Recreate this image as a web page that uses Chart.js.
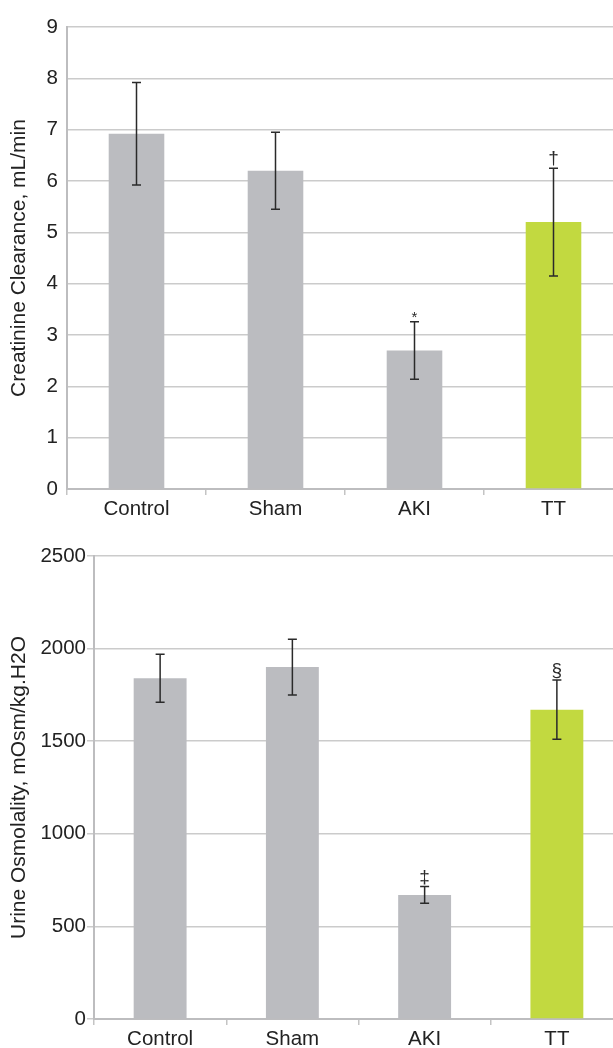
<!DOCTYPE html>
<html>
<head>
<meta charset="utf-8">
<script src="https://cdn.jsdelivr.net/npm/chart.js@4.4.1/dist/chart.umd.min.js"></script>
<style>
  html, body { margin: 0; padding: 0; background: #fff; overflow: hidden; width: 613px; height: 1048px; }
  .box { position: absolute; left: 0; width: 624px; }
  #b1 { top: 0; height: 530px; }
  #b2 { top: 530px; height: 518px; }
  canvas { display: block; }
</style>
</head>
<body>
<div class="box" id="b1"><canvas id="c1" width="624" height="530"></canvas></div>
<div class="box" id="b2"><canvas id="c2" width="624" height="518"></canvas></div>
<script>
// ---- data ----
const categories = ['Control', 'Sham', 'AKI', 'TT'];
const clearanceMeans = [6.92, 6.2, 2.7, 5.2];
const clearanceErr = [1.0, 0.75, 0.56, 1.05];
const clearanceMarks = ['', '', '*', '†'];
const osmolalityMeans = [1840, 1900, 670, 1670];
const osmolalityErr = [130, 150, 45, 160];
const osmolalityMarks = ['', '', '‡', '§'];
const barColors = ['#bbbcc0', '#bbbcc0', '#bbbcc0', '#c2d940'];

const FONT = 'Liberation Sans, Arial, sans-serif';

function errorBarPlugin(errs, marks) {
  return {
    id: 'errbars',
    afterDatasetsDraw(chart) {
      const ctx = chart.ctx;
      const meta = chart.getDatasetMeta(0);
      const ys = chart.scales.y;
      const vals = chart.data.datasets[0].data;
      ctx.save();
      ctx.strokeStyle = '#2a2a2a';
      ctx.lineWidth = 1.5;
      meta.data.forEach((bar, i) => {
        const x = bar.x;
        const yTop = ys.getPixelForValue(vals[i] + errs[i]);
        const yBot = ys.getPixelForValue(vals[i] - errs[i]);
        ctx.beginPath();
        ctx.moveTo(x, yTop); ctx.lineTo(x, yBot);
        ctx.moveTo(x - 4.5, yTop); ctx.lineTo(x + 4.5, yTop);
        ctx.moveTo(x - 4.5, yBot); ctx.lineTo(x + 4.5, yBot);
        ctx.stroke();
        if (marks[i]) {
          ctx.fillStyle = '#2a2a2a';
          ctx.textAlign = 'center';
          ctx.textBaseline = 'alphabetic';
          ctx.font = (marks[i] === '*' ? '15px ' : '19px ') + FONT;
          ctx.fillText(marks[i], x, yTop - (marks[i] === '*' ? 0 : 4));
        }
      });
      ctx.restore();
    }
  };
}

function makeChart(id, values, errs, marks, cfg) {
  return new Chart(document.getElementById(id), {
    type: 'bar',
    data: {
      labels: categories,
      datasets: [{
        data: values,
        backgroundColor: barColors,
        borderWidth: 0,
        barPercentage: 0.4,
        categoryPercentage: 1.0
      }]
    },
    options: {
      responsive: false,
      animation: false,
      events: [],
      layout: { padding: { top: cfg.top, right: 1, left: 0, bottom: 0 } },
      plugins: { legend: { display: false }, tooltip: { enabled: false } },
      scales: {
        x: {
          grid: { display: true, drawOnChartArea: false, drawTicks: true, tickLength: 6, color: '#c4c4c4', lineWidth: 1.5, offset: true },
          border: { display: true, color: '#bdbdbf', width: 2 },
          ticks: { color: '#222', font: { family: FONT, size: 20.5 }, padding: 2, maxRotation: 0 },
          afterFit(s) { s.height = cfg.xh; }
        },
        y: {
          min: 0, max: cfg.max,
          ticks: { stepSize: cfg.step, color: '#222', font: { family: FONT, size: 20.5 }, padding: cfg.tickPad,
                   callback: (v) => String(v) },
          grid: { color: '#cbcbcb', lineWidth: 1.5, tickLength: cfg.tickLen, drawTicks: true },
          border: { display: true, color: '#bdbdbf', width: 2 },
          title: { display: true, text: cfg.title, color: '#222', font: { family: FONT, size: 21 }, padding: { top: 7, bottom: 0 } },
          afterFit(s) { s.width = cfg.yw; }
        }
      }
    },
    plugins: [errorBarPlugin(errs, marks)]
  });
}

makeChart('c1', clearanceMeans, clearanceErr, clearanceMarks,
  { top: 27, xh: 41, yw: 67, max: 9, step: 1, tickLen: 0, tickPad: 9, title: 'Creatinine Clearance, mL/min' });
makeChart('c2', osmolalityMeans, osmolalityErr, osmolalityMarks,
  { top: 26, xh: 29, yw: 94, max: 2500, step: 500, tickLen: 7, tickPad: 1, title: 'Urine Osmolality, mOsm/kg.H2O' });
</script>
</body>
</html>
